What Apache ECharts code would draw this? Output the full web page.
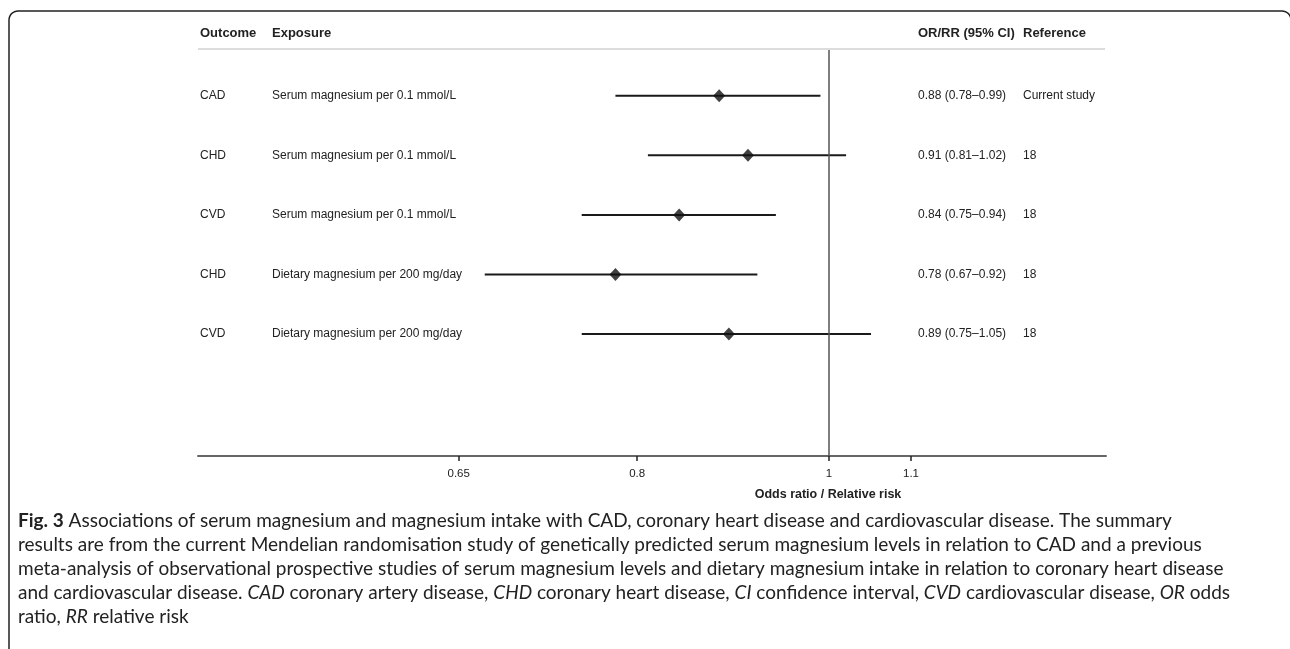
<!DOCTYPE html>
<html>
<head>
<meta charset="utf-8">
<script src="https://cdn.jsdelivr.net/npm/echarts@6/dist/echarts.min.js"></script>
<style>
html,body{margin:0;padding:0;background:#fff;}
#chart{width:1290px;height:649px;}
</style>
</head>
<body>
<div id="chart"></div>
<script>
// ---- data ----
const outcomes = ['CAD', 'CHD', 'CVD', 'CHD', 'CVD'];
const exposures = [
  'Serum magnesium per 0.1 mmol/L',
  'Serum magnesium per 0.1 mmol/L',
  'Serum magnesium per 0.1 mmol/L',
  'Dietary magnesium per 200 mg/day',
  'Dietary magnesium per 200 mg/day'
];
const estimates = [0.88, 0.91, 0.84, 0.78, 0.89];
const lowerCI = [0.78, 0.81, 0.75, 0.67, 0.75];
const upperCI = [0.99, 1.02, 0.94, 0.92, 1.05];
const references = ['Current study', '18', '18', '18', '18'];
const xTicks = [0.65, 0.8, 1, 1.1];
const headers = ['Outcome', 'Exposure', 'OR/RR (95% CI)', 'Reference'];
const xAxisTitle = 'Odds ratio / Relative risk';
const captionLines = [
  '{b|Fig. 3} Associations of serum magnesium and magnesium intake with CAD, coronary heart disease and cardiovascular disease. The summary',
  'results are from the current Mendelian randomisation study of genetically predicted serum magnesium levels in relation to CAD and a previous',
  'meta-analysis of observational prospective studies of serum magnesium levels and dietary magnesium intake in relation to coronary heart disease',
  'and cardiovascular disease. {i|CAD} coronary artery disease, {i|CHD} coronary heart disease, {i|CI} confidence interval, {i|CVD} cardiovascular disease, {i|OR} odds',
  'ratio, {i|RR} relative risk'
];

// ---- build ----
const rows = estimates.map((e, i) => i + 1);
const ciText = estimates.map((e, i) =>
  e.toFixed(2) + ' (' + lowerCI[i].toFixed(2) + '\u2013' + upperCI[i].toFixed(2) + ')');

const FONT = '"Liberation Sans", Arial, Helvetica, sans-serif';
const CAPFONT = '"Lato", sans-serif';
const CAPSIZE = 19;
const colX = [200, 272, 918, 1023];

const chart = echarts.init(document.getElementById('chart'), null, {renderer: 'canvas'});

// frame with rounded top corners
function framePoints() {
  const pts = [[9, 649]];
  const r = 9, L = 9, R = 1291, T = 11;
  for (let k = 0; k <= 8; k++) {
    const a = Math.PI + (Math.PI / 2) * (k / 8);
    pts.push([L + r + r * Math.cos(a), T + r + r * Math.sin(a)]);
  }
  for (let k = 0; k <= 8; k++) {
    const a = -Math.PI / 2 + (Math.PI / 2) * (k / 8);
    pts.push([R - r + r * Math.cos(a), T + r + r * Math.sin(a)]);
  }
  pts.push([R, 649]);
  return pts;
}

const graphics = [];
graphics.push({
  type: 'polyline', silent: true,
  shape: {points: framePoints()},
  style: {fill: null, stroke: '#222', lineWidth: 1.5}
});
graphics.push({type: 'line', silent: true, shape: {x1: 198, y1: 49, x2: 1105, y2: 49},
  style: {stroke: '#dcdcdc', lineWidth: 2}});
headers.forEach((h, i) => {
  graphics.push({type: 'text', silent: true, x: colX[i], y: 33,
    style: {text: h, font: 'bold 13px ' + FONT, fill: '#222', verticalAlign: 'middle', align: 'left'}});
});
graphics.push({type: 'text', silent: true, x: 828, y: 495,
  style: {text: xAxisTitle, font: 'bold 12.5px ' + FONT, fill: '#222', align: 'center', verticalAlign: 'middle'}});
captionLines.forEach((t, i) => {
  graphics.push({type: 'text', silent: true, x: 18, y: 521 + i * 24,
    style: {text: t, font: CAPSIZE + 'px ' + CAPFONT, fill: '#222', verticalAlign: 'middle', align: 'left',
      rich: {
        b: {font: 'bold ' + CAPSIZE + 'px ' + CAPFONT, fill: '#222'},
        i: {font: 'italic ' + CAPSIZE + 'px ' + CAPFONT, fill: '#222'}
      }}});
});

const option = {
  animation: false,
  backgroundColor: '#fff',
  grid: {left: 198, right: 184, top: 50, bottom: 193},
  xAxis: {
    type: 'log', logBase: 10, min: 0.48, max: 1.38,
    axisLine: {show: true, lineStyle: {color: '#666', width: 2}},
    axisTick: {show: true, customValues: xTicks, length: 5, lineStyle: {color: '#222', width: 1.5}},
    axisLabel: {show: true, customValues: xTicks, margin: 12, color: '#222', fontSize: 11.5, fontFamily: FONT,
      formatter: v => String(+(+v).toFixed(2))},
    splitLine: {show: false}, minorTick: {show: false}
  },
  yAxis: {type: 'value', inverse: true, min: 0.23, max: 7.05, show: false},
  graphic: graphics,
  series: [
    {
      type: 'custom',
      data: rows.map((r, i) => [lowerCI[i], upperCI[i], r]),
      encode: {x: [0, 1], y: 2},
      renderItem: (params, api) => {
        const a = api.coord([api.value(0), api.value(2)]);
        const b = api.coord([api.value(1), api.value(2)]);
        return {type: 'line', shape: {x1: a[0], y1: a[1], x2: b[0], y2: b[1]},
          style: {stroke: '#1a1a1a', lineWidth: 2}};
      },
      markLine: {
        silent: true, symbol: 'none', label: {show: false},
        lineStyle: {color: '#555', width: 1.5, type: 'solid'},
        data: [{xAxis: 1}]
      },
      z: 2
    },
    {
      type: 'scatter',
      data: rows.map((r, i) => [estimates[i], r]),
      symbol: 'diamond', symbolSize: [12, 13],
      itemStyle: {color: '#111'},
      z: 3
    },
    {
      type: 'custom',
      data: rows.map((r, i) => [1, r, i]),
      encode: {x: 0, y: 1},
      renderItem: (params, api) => {
        const i = api.value(2);
        const y = api.coord([1, api.value(1)])[1];
        const cols = [outcomes[i], exposures[i], ciText[i], references[i]];
        return {type: 'group', children: cols.map((t, k) => ({
          type: 'text', x: colX[k], y: y,
          style: {text: t, font: '12px ' + FONT, fill: '#222', verticalAlign: 'middle', align: 'left'}
        }))};
      },
      z: 4
    }
  ]
};
chart.setOption(option);
</script>
</body>
</html>
